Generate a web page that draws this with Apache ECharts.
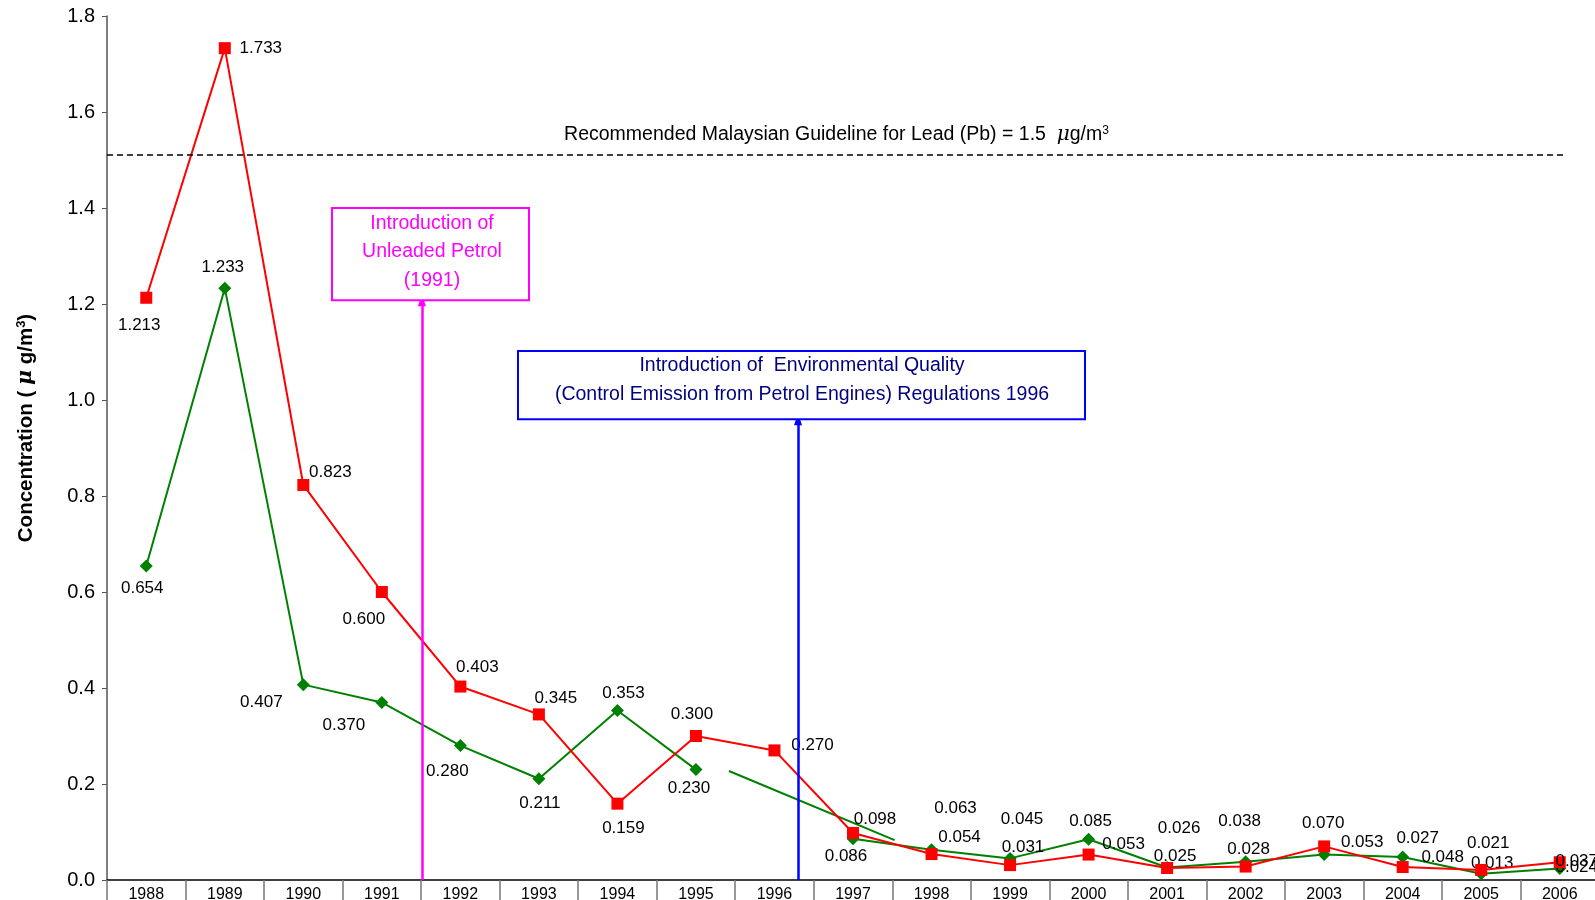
<!DOCTYPE html>
<html>
<head>
<meta charset="utf-8">
<script src="https://cdn.jsdelivr.net/npm/echarts@6/dist/echarts.min.js"></script>
<style>
html,body{margin:0;padding:0;background:#fff;}
#c{width:1595px;height:900px;}
</style>
</head>
<body>
<div id="c"></div>
<script>
const years = ['1988','1989','1990','1991','1992','1993','1994','1995','1996','1997','1998','1999','2000','2001','2002','2003','2004','2005','2006'];
const redSeries = [1.213,1.733,0.823,0.600,0.403,0.345,0.159,0.300,0.270,0.098,0.054,0.031,0.053,0.025,0.028,0.070,0.027,0.021,0.037];
const greenSeries = [0.654,1.233,0.407,0.370,0.280,0.211,0.353,0.230,null,0.086,0.063,0.045,0.085,0.026,0.038,0.053,0.048,0.013,0.024];
const yTicks = [0,0.2,0.4,0.6,0.8,1.0,1.2,1.4,1.6,1.8];
// stray connector line drawn in the original (category-index units)
const connectorX = [7.42, 9.53];
const connectorY = [0.227, 0.083];
const guideline = 1.51;
const unleadedX = 3.51, unleadedTop = 1.208;
const regX = 8.30, regTop = 0.960;

// label offsets (styling only)
const redOffsets = [[-7,28],[36,0],[27,-13],[-18,27],[17,-19],[17,-16],[6,25],[-4,-22],[38,-5],[22,-14],[28,-17],[13,-18],[35,-10],[8,-12],[3,-17],[-1,-23],[15,-29],[7,-27],[17,-1]];
const greenOffsets = [[-4,22],[-2,-21],[-42,18],[-38,23],[-13,26],[1,25],[6,-17],[-7,19],[0,0],[-7,18],[24,-41],[12,-39],[2,-18],[12,-39],[-6,-40],[38,-12],[40,0],[11,-10],[17,-1]];

const FONT = "'Liberation Sans', Arial, sans-serif";
function mkData(vals, offs){
  return vals.map((v,i)=>({value:v, label:{offset:offs[i]}}));
}
const chart = echarts.init(document.getElementById('c'));
const option = {
  animation:false,
  backgroundColor:'#fff',
  textStyle:{fontFamily:FONT},
  grid:{left:107,right:-4,top:16,bottom:20,containLabel:false,outerBoundsMode:'none'},
  xAxis:[{
    type:'category', data:years, boundaryGap:true,
    axisLine:{lineStyle:{color:'#000',width:1.5}},
    axisTick:{show:true,length:22,lineStyle:{color:'#777',width:1.5}},
    axisLabel:{color:'#000',fontSize:16,margin:7,fontFamily:FONT},
    splitLine:{show:false}
  },{
    type:'value', min:-0.5, max:18.5, show:false
  }],
  yAxis:{
    type:'value', min:0, max:1.8, interval:0.2,
    axisLine:{show:true,onZero:false,lineStyle:{color:'#555',width:1.5}},
    axisTick:{show:true,length:5,lineStyle:{color:'#555'}},
    axisLabel:{color:'#000',fontSize:20,margin:12,formatter:v=>v.toFixed(1),fontFamily:FONT},
    splitLine:{show:false}
  },
  series:[
    {
      type:'line', name:'Green', data:mkData(greenSeries,greenOffsets), connectNulls:false,
      symbol:'diamond', symbolSize:13,
      lineStyle:{color:'#008000',width:2}, itemStyle:{color:'#008000'},
      label:{show:true,position:'inside',align:'center',verticalAlign:'middle',color:'#000',fontSize:17,fontFamily:FONT,formatter:p=>p.value.toFixed(3)},
      z:3
    },
    {
      type:'line', name:'Red', data:mkData(redSeries,redOffsets),
      symbol:'rect', symbolSize:12,
      lineStyle:{color:'#ff0000',width:2}, itemStyle:{color:'#ff0000'},
      label:{show:true,position:'inside',align:'center',verticalAlign:'middle',color:'#000',fontSize:17,fontFamily:FONT,formatter:p=>p.value.toFixed(3)},
      z:4
    },
    {
      type:'line', name:'connector', xAxisIndex:1,
      data:connectorX.map((x,i)=>[x,connectorY[i]]),
      symbol:'none', lineStyle:{color:'#008000',width:2}, z:3,
      markLine:{
        silent:true, z:10,
        data:[
          [{coord:[-0.5,guideline],symbol:'none',lineStyle:{color:'#000',type:[6,4],width:1.5},
            label:{show:true,position:'middle',distance:10,color:'#000',fontSize:19.5,fontFamily:FONT,
              formatter:'Recommended Malaysian Guideline for Lead (Pb) = 1.5  {mu|μ}g/m{sup|3}',
              rich:{mu:{fontStyle:'italic',fontSize:20,color:'#000',fontFamily:'DejaVu Serif'},sup:{fontSize:12,verticalAlign:'top',color:'#000',padding:[0,0,9,0]}}}},
           {coord:[18.08,guideline],symbol:'none'}],
          [{coord:[unleadedX,0],symbol:'none',lineStyle:{color:'#ff00ff',width:2.5,type:'solid'},label:{show:false}},
           {coord:[unleadedX,unleadedTop],symbol:'triangle',symbolSize:[8,12]}],
          [{coord:[regX,0],symbol:'none',lineStyle:{color:'#0000ff',width:2.5,type:'solid'},label:{show:false}},
           {coord:[regX,regTop],symbol:'triangle',symbolSize:[8,12]}]
        ]
      }
    }
  ]
};
chart.setOption(option);

const p1 = chart.convertToPixel({xAxisIndex:1,yAxisIndex:0},[unleadedX,unleadedTop]);
const p2 = chart.convertToPixel({xAxisIndex:1,yAxisIndex:0},[regX,regTop]);
const BF = "19.5px " + FONT;
chart.setOption({
  graphic:[
    {type:'rect', shape:{x:332,y:208,width:197,height:p1[1]-208}, style:{fill:'#fff',stroke:'#ff00ff',lineWidth:2}, z:20},
    {type:'text', x:432, y:224, style:{text:'Introduction of',fill:'#ff00ff',font:BF,textAlign:'center',textVerticalAlign:'middle'}, z:21},
    {type:'text', x:432, y:252, style:{text:'Unleaded Petrol',fill:'#ff00ff',font:BF,textAlign:'center',textVerticalAlign:'middle'}, z:21},
    {type:'text', x:432, y:281, style:{text:'(1991)',fill:'#ff00ff',font:BF,textAlign:'center',textVerticalAlign:'middle'}, z:21},
    {type:'rect', shape:{x:518,y:351,width:567,height:p2[1]-351}, style:{fill:'#fff',stroke:'#0000ff',lineWidth:2}, z:20},
    {type:'text', x:802, y:366, style:{text:'Introduction of  Environmental Quality',fill:'#000080',font:BF,textAlign:'center',textVerticalAlign:'middle'}, z:21},
    {type:'text', x:802, y:395, style:{text:'(Control Emission from Petrol Engines) Regulations 1996',fill:'#000080',font:BF,textAlign:'center',textVerticalAlign:'middle'}, z:21},
    {type:'text', x:26, y:428, rotation:Math.PI/2,
      style:{text:'Concentration ( {mu|μ} g/m{sup|3})',fill:'#000',font:"bold 20.5px "+FONT,textAlign:'center',textVerticalAlign:'middle',
        rich:{mu:{fontStyle:'italic',fontWeight:'bold',fontSize:20.5,fontFamily:'DejaVu Serif'},sup:{fontSize:13,fontWeight:'bold',verticalAlign:'top',padding:[0,0,9,0]}}}, z:21}
  ]
});
</script>
</body>
</html>
